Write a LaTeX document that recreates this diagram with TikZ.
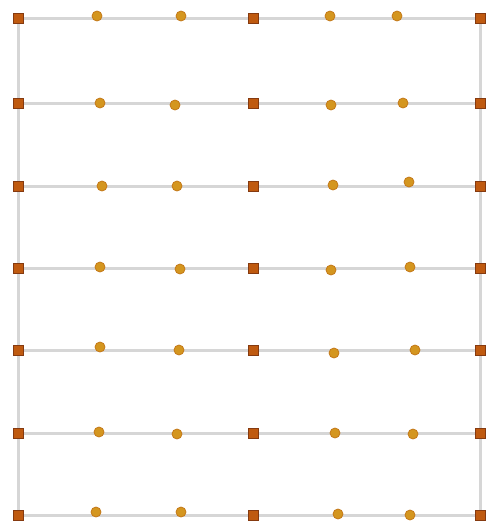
\documentclass[tikz,border=0pt]{standalone}
\usetikzlibrary{backgrounds}
\definecolor{railgray}{HTML}{D6D6D6}
\definecolor{postfill}{HTML}{BF5A10}
\definecolor{postdraw}{HTML}{853A10}
\definecolor{beadfill}{HTML}{D4961F}
\definecolor{beaddraw}{HTML}{C47818}

\begin{document}
\begin{tikzpicture}[x=1pt,y=-1pt]
  \tikzstyle{post}=[rectangle,draw=postdraw,fill=postfill,line width=0.9pt,minimum size=10pt,inner sep=0pt]
  \tikzstyle{bead}=[circle,draw=beaddraw,fill=beadfill,line width=0.8pt,minimum width=10pt,minimum height=9pt,inner sep=0pt]
  \tikzstyle{rail}=[draw=railgray,line width=3pt]
  \useasboundingbox (0,0) rectangle (490,522);
  \foreach \i/\y/\pts in {1/18/{97/16,181/16,330/16,397/16},
                          2/103/{100/103,175/105,331/105,403/103},
                          3/186/{102/186,177/186,333/185,409/182},
                          4/268/{100/267,180/269,331/270,410/267},
                          5/350/{100/347,179/350,334/353,415/350},
                          6/433/{99/432,177/434,335/433,413/434},
                          7/515/{96/512,181/512,338/514,410/515}} {
    \node[post] (l\i) at (18,\y) {};
    \node[post] (m\i) at (253,\y) {};
    \node[post] (r\i) at (480,\y) {};
    \foreach \px/\py [count=\j] in \pts
      \node[bead] (b\i\j) at (\px,\py) {};
    \begin{scope}[on background layer]
      \draw[rail] (l\i) -- (m\i) -- (r\i);
    \end{scope}
  }
  \begin{scope}[on background layer]
    \draw[rail] (l1.center) -- (l7.center);
    \draw[rail] (r1.center) -- (r7.center);
  \end{scope}
\end{tikzpicture}
\end{document}
